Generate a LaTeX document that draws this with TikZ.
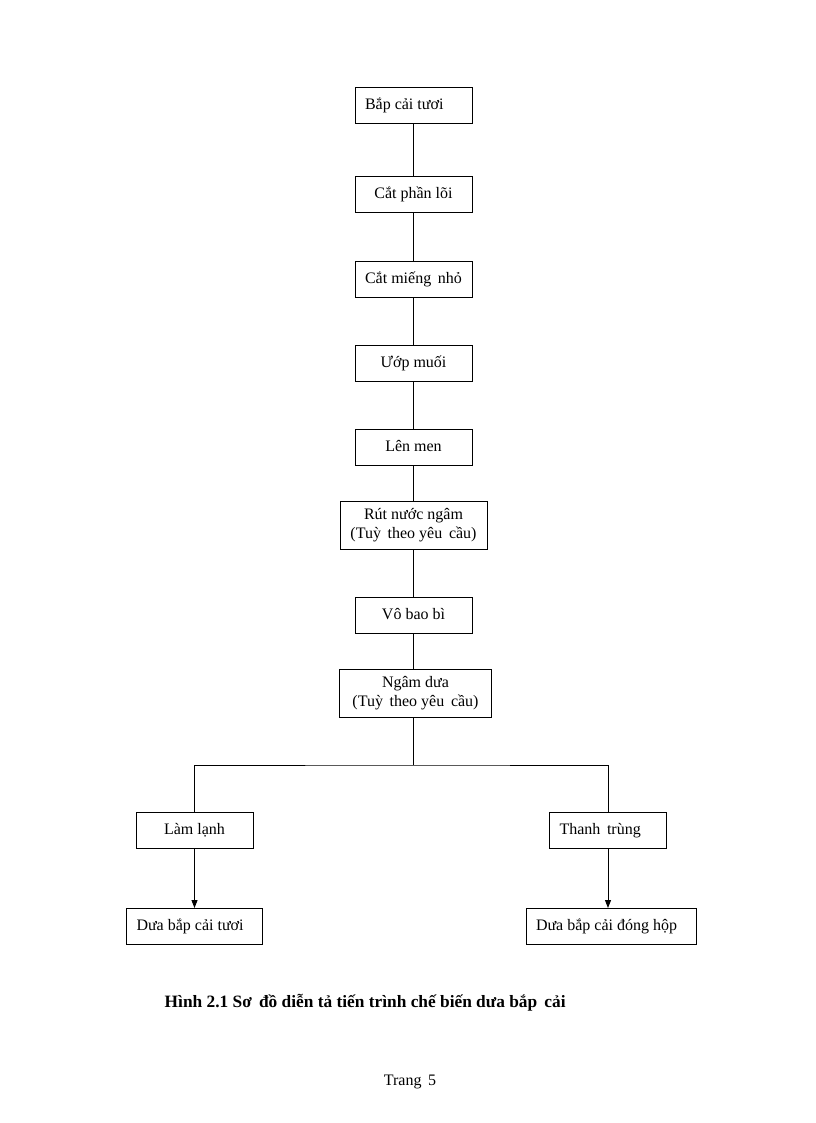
\documentclass[tikz,border=0pt]{standalone}
\usepackage{fontspec}
\setmainfont{Liberation Serif}
\usetikzlibrary{positioning, arrows.meta}

\begin{document}
\begin{tikzpicture}
[x=0.75pt, y=-0.75pt,
stepbox/.style={rectangle, draw=black, line width=0.75pt, outer sep=0pt, minimum width=87.75pt, minimum height=27pt, inner sep=1mm, text height=8.5pt, text depth=2.5pt, font=\fontsize{12}{14}\selectfont, align=center},
leftbox/.style={stepbox, align=flush left, inner xsep=7.5pt, text width=#1},
widebox/.style={stepbox, minimum height=36pt, text height=, text depth=},
link/.style={draw=black, line width=0.75pt},
arrowlink/.style={link, -{Triangle[length=6pt, width=4.5pt]}}]

\useasboundingbox (0,0) rectangle (816,1123);

\node[leftbox=72.75pt] (fresh) at (413.5,106) {Bắp cải tươi};
\node[stepbox, below=39.75pt of fresh] (core) {Cắt phần lõi};
\node[stepbox, below=36pt of core] (slice) {Cắt miếng\, nhỏ};
\node[stepbox, below=36pt of slice] (salt) {Ướp muối};
\node[stepbox, below=36pt of salt] (ferment) {Lên men};
\node[widebox, minimum width=110.25pt, below=27pt of ferment] (drain) {Rút nước ngâm\\(Tuỳ\, theo yêu\, cầu)};
\node[stepbox, below=36pt of drain] (pack) {Vô bao bì};
\node[widebox, minimum width=114pt, below=27pt of pack, xshift=1.5pt] (soak) {Ngâm dưa\\(Tuỳ\, theo yêu\, cầu)};
\coordinate (split) at ([yshift=-36pt]soak.south -| pack.south);

\node[stepbox] (chill) at (194.5,830) {Làm lạnh};
\node[leftbox=72.75pt] (sterile) at (608,830) {Thanh\, trùng};
\node[leftbox=87pt, below=45pt of chill] (freshpickle) {Dưa bắp cải tươi};
\node[leftbox=112.5pt, below=45pt of sterile, xshift=2.25pt] (canned) {Dưa bắp cải đóng hộp};

% main line
\foreach \a/\b in {fresh/core, core/slice, slice/salt, salt/ferment, ferment/drain, drain/pack}
  \draw[link] (\a) -- (\b);
\draw[link] (pack.south) -- (pack.south |- soak.north);
\draw[link] (pack.south |- soak.south) -- (split);
\draw[link] (chill.north) |- (split) -| (sterile.north);

% end products
\draw[arrowlink] (chill) -- (freshpickle);
\draw[arrowlink] (sterile.south) -- (sterile.south |- canned.north);

\node[anchor=west, font=\fontsize{13}{15}\selectfont\bfseries] (caption) at (160,1003) {Hình 2.1 Sơ\, đồ diễn tả tiến trình chế biến dưa bắp\, cải};
\node[font=\fontsize{12}{14}\selectfont] (page) at (410,1082) {Trang\, 5};
\end{tikzpicture}
\end{document}
